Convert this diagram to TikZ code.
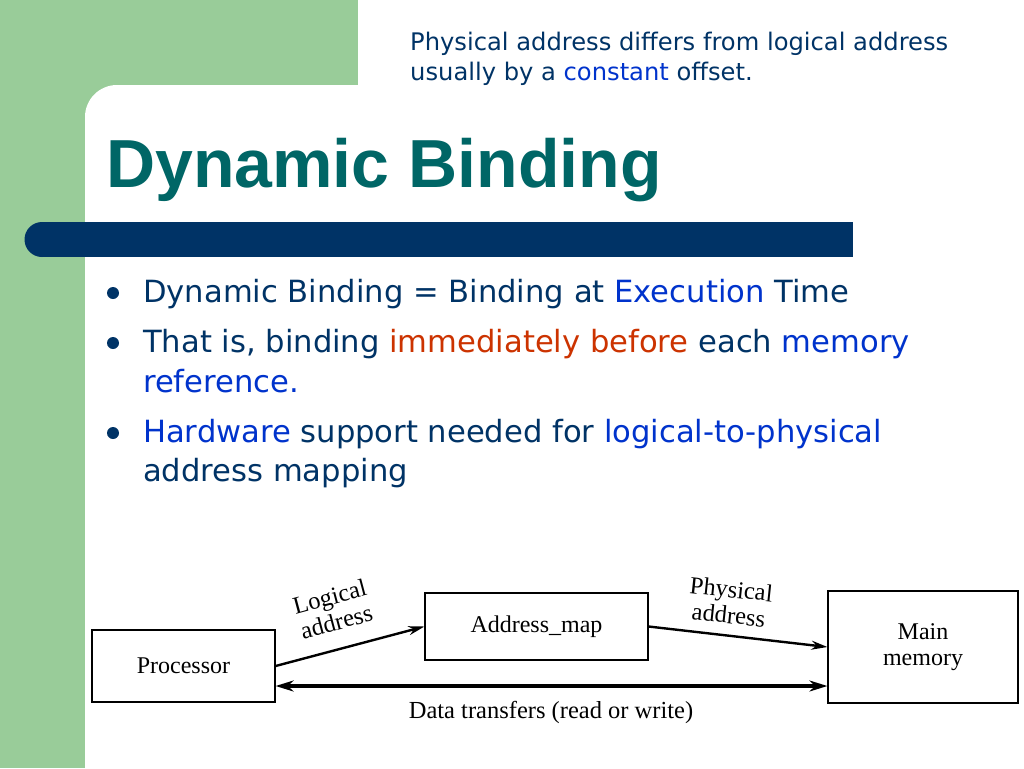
\documentclass[tikz,border=0pt]{standalone}
\usepackage{fontspec}
\setmainfont{DejaVu Sans}
\newfontfamily\headfont{Liberation Sans}
\newfontfamily\figfont{Liberation Serif}
\definecolor{slidegreen}{RGB}{153,204,153}
\definecolor{barnavy}{RGB}{0,51,102}
\definecolor{titleteal}{RGB}{0,102,102}
\definecolor{textnavy}{RGB}{0,51,102}
\definecolor{keyblue}{RGB}{0,51,204}
\definecolor{keyred}{RGB}{204,51,0}
\usetikzlibrary{arrows.meta, positioning}

\begin{document}
\begin{tikzpicture}[x=1pt, y=-1pt,
  bullettext/.style={anchor=base west, inner sep=0pt, text=textnavy, font=\fontsize{30.6}{40}\selectfont},
  notetext/.style={anchor=base west, inner sep=0pt, text=textnavy, font=\fontsize{24.2}{30}\selectfont},
  dot/.style={circle, fill=textnavy, inner sep=0pt, minimum size=12pt},
  blockbox/.style={draw, line width=1.2pt, font=\figfont\fontsize{24}{26}\selectfont, align=center, inner sep=0pt},
  flowlabel/.style={font=\figfont\fontsize{24.5}{26}\selectfont, align=center, inner sep=0pt},
  flow/.style={-{Stealth[length=16pt,width=9pt]}, line width=2.4pt}]
  \useasboundingbox (0,0) rectangle (1024,768);

  % Slide background
  \fill[slidegreen] (0,0) rectangle (1024,768);
  \fill[white, rounded corners=32pt] (85,85) rectangle (1100,900);
  \fill[white] (358,-1) rectangle (1025,86);
  \fill[barnavy] (42,222) rectangle (853,257);
  \fill[barnavy] (42,239.5) circle (17.5pt);

  % Note and title
  \node[notetext] (note1) at (410,50) {Physical address differs from logical address};
  \node[notetext] (note2) at (410,80) {usually by a \textcolor{keyblue}{constant} offset.};
  \node[anchor=base west, inner sep=0pt, text=titleteal, font=\headfont\bfseries\fontsize{68}{70}\selectfont] (title) at (106,187) {Dynamic Binding};

  % Bullets
  \node[dot] (d1) at (113,293) {};
  \node[bullettext] (b1) at (143,302) {Dynamic Binding = Binding at \textcolor{keyblue}{Execution} Time};
  \node[dot] (d2) at (113,343) {};
  \node[bullettext] (b2) at (143,352) {That is, binding \textcolor{keyred}{immediately before} each \textcolor{keyblue}{memory}};
  \node[bullettext, text=keyblue] (b2b) at (143,392) {reference.};
  \node[dot] (d3) at (113,433) {};
  \node[bullettext] (b3) at (143,442) {\textcolor{keyblue}{Hardware} support needed for \textcolor{keyblue}{logical-to-physical}};
  \node[bullettext] (b3b) at (143,481) {address mapping};

  % Binding diagram
  \node[blockbox, minimum width=183pt, minimum height=72pt] (proc) at (183.5,666) {Processor};
  \node[blockbox, minimum width=223pt, minimum height=67pt] (amap) at (536.5,626.5) {Address\_map};
  \node[blockbox, minimum width=190pt, minimum height=112pt] (mem) at (923,647) {Main\\memory};
  \coordinate (dt) at (551,686);

  \draw[flow] (proc.east) -- (amap.west);
  \draw[flow] (amap.east) -- (mem.west);
  \draw[{Stealth[length=18pt,width=11pt]}-{Stealth[length=18pt,width=11pt]}, line width=4pt] (proc.east |- dt) -- (mem.west |- dt);

  \node[flowlabel, rotate=15] (lbl1) at (333,609) {Logical\\address};
  \node[flowlabel, rotate=-6] (lbl2) at (730,602) {Physical\\address};
  \node[flowlabel] (lbl3) at (551,712) {Data transfers (read or write)};
\end{tikzpicture}
\end{document}
